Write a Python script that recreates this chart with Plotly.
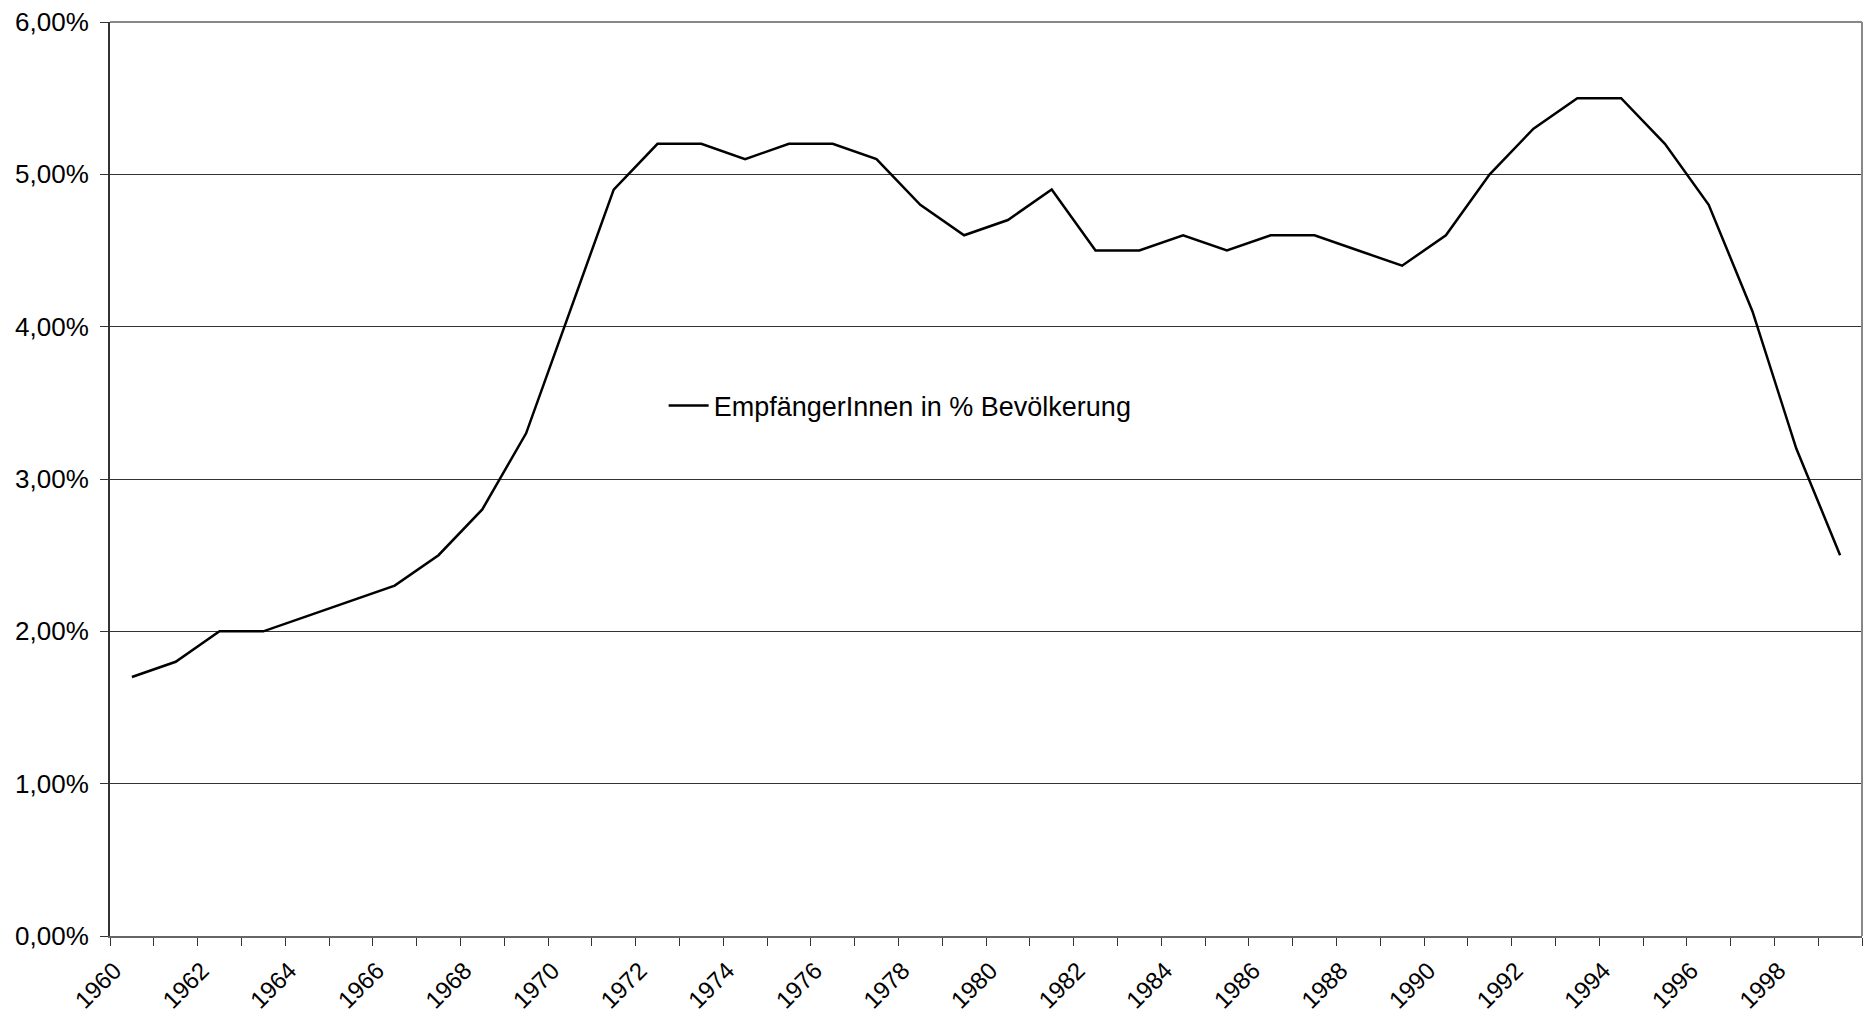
import plotly.graph_objects as go

years = list(range(1960, 2000))
values = [1.7, 1.8, 2.0, 2.0, 2.1, 2.2, 2.3, 2.5, 2.8, 3.3,
          4.1, 4.9, 5.2, 5.2, 5.1, 5.2, 5.2, 5.1, 4.8, 4.6,
          4.7, 4.9, 4.5, 4.5, 4.6, 4.5, 4.6, 4.6, 4.5, 4.4,
          4.6, 5.0, 5.3, 5.5, 5.5, 5.2, 4.8, 4.1, 3.2, 2.5]
label_years = list(range(1960, 2000, 2))
y_ticks = [0, 1, 2, 3, 4, 5, 6]
series_name = "EmpfängerInnen in % Bevölkerung"

font_family = "Liberation Sans, Arial, sans-serif"

fig = go.Figure()
fig.add_trace(go.Scatter(
    x=years, y=values, mode="lines", name=series_name,
    line=dict(color="black", width=2.5),
))

fig.update_layout(
    width=1856, height=1008,
    margin=dict(l=102, r=2, t=14, b=80),
    paper_bgcolor="white", plot_bgcolor="white",
    font=dict(family=font_family, size=26, color="black"),
    showlegend=True,
    legend=dict(x=0.316, y=0.58, xanchor="left", yanchor="middle",
                bgcolor="rgba(0,0,0,0)", font=dict(size=27),
                itemwidth=40),
    shapes=[
        dict(type="line", xref="paper", yref="paper", x0=0, x1=1, y0=1, y1=1,
             line=dict(color="#888", width=2)),
        dict(type="line", xref="paper", yref="paper", x0=1, x1=1, y0=0, y1=1,
             line=dict(color="#888", width=2)),
    ],
)

fig.update_xaxes(
    range=[1959.5, 1999.5],
    tickmode="array",
    tickvals=[y - 0.4 for y in label_years],
    ticktext=[str(y) for y in label_years],
    tickangle=-45,
    ticks="",
    ticklabelstandoff=9,
    ticklabeloverflow="allow",
    showgrid=False,
    showline=True, linecolor="#666", linewidth=2,
    zeroline=False,
    automargin=False,
    minor=dict(tick0=1959.5, dtick=1, ticks="outside", ticklen=8,
               tickcolor="#333", tickwidth=1, showgrid=False),
    tickfont=dict(size=24),
)

fig.update_yaxes(
    range=[0, 6],
    tickmode="array",
    tickvals=y_ticks,
    ticktext=[f"{v:.2f}%".replace(".", ",") for v in y_ticks],
    ticks="outside", ticklen=8, tickcolor="#333",
    ticklabelstandoff=6,
    ticklabeloverflow="allow",
    showgrid=True, gridcolor="#333", gridwidth=1,
    showline=True, linecolor="#333", linewidth=2,
    zeroline=False,
    automargin=False,
    tickfont=dict(size=26),
)

fig.write_html("out.html")
